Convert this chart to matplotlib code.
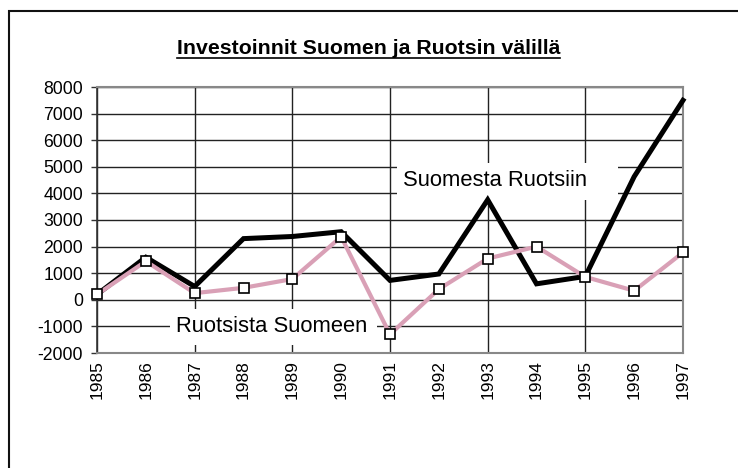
import matplotlib.pyplot as plt
from matplotlib.patches import Rectangle
from matplotlib.lines import Line2D

# data
years = [1985, 1986, 1987, 1988, 1989, 1990, 1991, 1992, 1993, 1994, 1995, 1996, 1997]
suomesta_ruotsiin = [200, 1600, 500, 2300, 2380, 2560, 730, 970, 3760, 600, 880, 4630, 7500]
ruotsista_suomeen = [200, 1450, 250, 450, 780, 2370, -1300, 400, 1550, 2000, 860, 340, 1780]
title = 'Investoinnit Suomen ja Ruotsin välillä'
label_black = 'Suomesta Ruotsiin'
label_pink = 'Ruotsista Suomeen'

plt.rcParams['font.family'] = ['Liberation Sans', 'DejaVu Sans']
plt.rcParams['axes.unicode_minus'] = False

fig = plt.figure(figsize=(7.38, 4.68), dpi=100)
ax = fig.add_axes([97 / 738, 1 - 353 / 468, 586 / 738, 266 / 468])

# outer frame (top and left edges visible, rest outside the picture)
fig.patches.append(Rectangle((8.5 / 738, -0.2), 1.2, 0.2 + 1 - 10.5 / 468,
                             transform=fig.transFigure, fill=False,
                             edgecolor='#111111', linewidth=1.5))

# series
ax.plot(years, suomesta_ruotsiin, color='black', linewidth=3.6, zorder=3,
        solid_joinstyle='miter', clip_on=False)
ax.plot(years, ruotsista_suomeen, color='#D9A0B6', linewidth=3, zorder=4,
        marker='s', markersize=7, markerfacecolor='white',
        markeredgecolor='black', markeredgewidth=1.2, clip_on=False)

# axes
ax.set_xlim(1985, 1997)
ax.set_ylim(-2000, 8000)
ax.set_yticks(range(-2000, 8001, 1000))
ax.set_xticks(years)
ax.set_xticklabels([str(y) for y in years], rotation=90)
ax.xaxis.remove_overlapping_locs = False
ax.set_xticks(years[::2], minor=True)
ax.tick_params(axis='x', which='both', length=0, pad=5, labelsize=12.5)
ax.tick_params(axis='y', length=4, width=1, color='#333333', pad=6, labelsize=12.7)

ax.set_axisbelow(True)
ax.grid(axis='y', which='major', color='#222222', linewidth=1)
ax.grid(axis='x', which='minor', color='#222222', linewidth=1)

for side in ['top', 'right', 'bottom']:
    ax.spines[side].set_color('#888888')
    ax.spines[side].set_linewidth(1.5)
ax.spines['left'].set_color('#333333')
ax.spines['left'].set_linewidth(1.2)

# label boxes covering the grid
ax.add_patch(Rectangle((0.512, 0.575), 0.377, 0.139, transform=ax.transAxes,
                       facecolor='white', edgecolor='none', zorder=1))
ax.add_patch(Rectangle((0.1246, 0.030), 0.353, 0.135, transform=ax.transAxes,
                       facecolor='white', edgecolor='none', zorder=1))
ax.text(0.522, 0.650, label_black, transform=ax.transAxes, fontsize=15.8,
        ha='left', va='center', zorder=2)
ax.text(0.135, 0.098, label_pink, transform=ax.transAxes, fontsize=15.8,
        ha='left', va='center', zorder=2)

# underlined bold title
t = fig.text(0.4993, 1 - 54 / 468, title, fontsize=15.3, fontweight='bold',
             ha='center', va='baseline')
fig.canvas.draw()
bb = t.get_window_extent().transformed(fig.transFigure.inverted())
uy = 1 - 57.5 / 468
fig.lines.append(Line2D([bb.x0, bb.x1], [uy, uy], transform=fig.transFigure,
                        color='black', linewidth=1.2))

fig.savefig('out.png', dpi=100)
